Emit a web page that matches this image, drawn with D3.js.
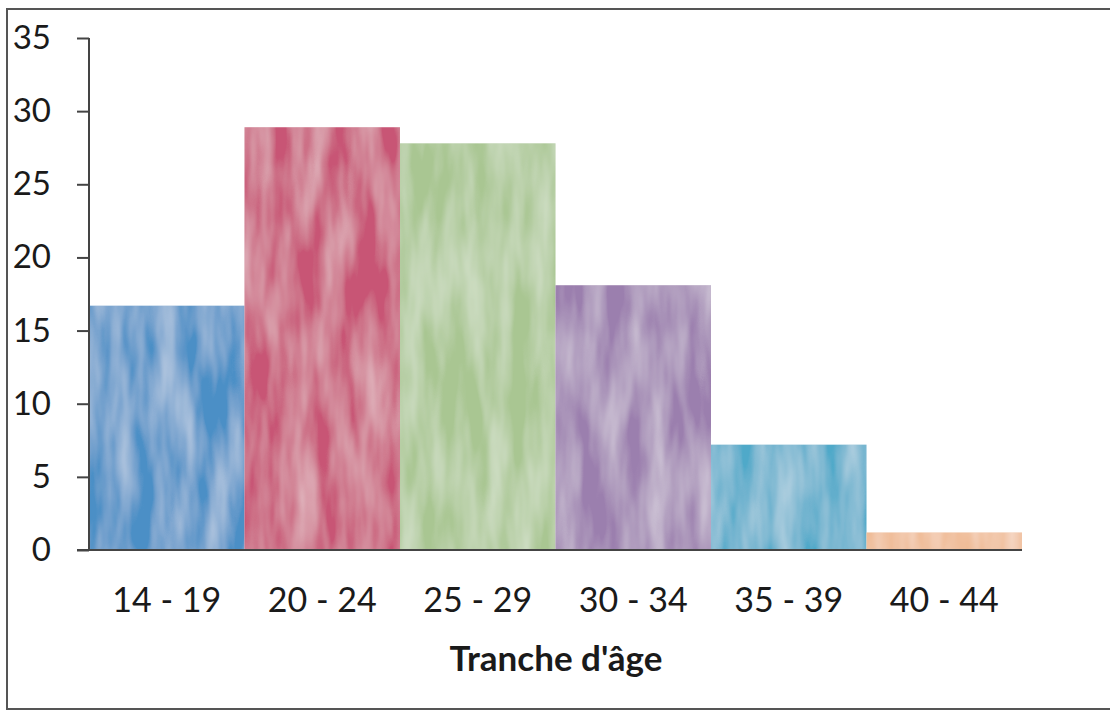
<!DOCTYPE html>
<html>
<head>
<meta charset="utf-8">
<script src="https://cdn.jsdelivr.net/npm/d3@7"></script>
<style>
  body { margin: 0; background: #fff; }
  text { font-family: Lato, "Open Sans", sans-serif; fill: #1a1a1a; }
</style>
</head>
<body>
<svg width="1110" height="712"></svg>
<script>
var categories = ["14 - 19", "20 - 24", "25 - 29", "30 - 34", "35 - 39", "40 - 44"];
var values = [16.7, 28.9, 27.8, 18.1, 7.2, 1.2];
var colors = ["#4b8fc6", "#c85474", "#a9c692", "#9b7fae", "#4fa9c9", "#efb992"];
var yTicks = [0, 5, 10, 15, 20, 25, 30, 35];
var xTitle = "Tranche d'âge";

var svg = d3.select("svg");

// soft watercolour-like texture for the bars
var filter = svg.append("defs").append("filter")
  .attr("id", "wash")
  .attr("x", 0).attr("y", 0).attr("width", 1).attr("height", 1);
filter.append("feTurbulence")
  .attr("type", "fractalNoise")
  .attr("baseFrequency", "0.045 0.009")
  .attr("numOctaves", 3)
  .attr("seed", 7)
  .attr("result", "noise");
filter.append("feColorMatrix")
  .attr("in", "noise")
  .attr("type", "matrix")
  .attr("values", "0 0 0 0 1  0 0 0 0 1  0 0 0 0 1  0.7 0 0 0 -0.22")
  .attr("result", "light");
filter.append("feComposite")
  .attr("in", "light").attr("in2", "SourceGraphic")
  .attr("operator", "in").attr("result", "lightIn");
filter.append("feMerge").selectAll("feMergeNode")
  .data(["SourceGraphic", "lightIn"])
  .join("feMergeNode").attr("in", function(d){ return d; });

// frame around the chart
svg.append("rect")
  .attr("x", 7).attr("y", 9)
  .attr("width", 1115).attr("height", 700)
  .attr("fill", "none")
  .attr("stroke", "#555")
  .attr("stroke-width", 2);

var x = d3.scaleBand().domain(categories).range([89, 1022]).padding(0);
var y = d3.scaleLinear().domain([0, 35]).range([550, 38]);

// bars
svg.selectAll("rect.bar")
  .data(values)
  .join("rect")
  .attr("class", "bar")
  .attr("x", function(d, i){ return x(categories[i]); })
  .attr("y", function(d){ return y(d); })
  .attr("width", x.bandwidth())
  .attr("height", function(d){ return y(0) - y(d); })
  .attr("fill", function(d, i){ return colors[i]; })
  .attr("filter", "url(#wash)");

// y axis
var yAxis = svg.append("g")
  .attr("transform", "translate(89,0)")
  .call(d3.axisLeft(y).tickValues(yTicks).tickSize(12).tickPadding(26));
yAxis.selectAll("line, path").attr("stroke", "#444").attr("stroke-width", 2);
yAxis.select(".domain").attr("d", "M0," + y(35) + "V" + y(0));
yAxis.selectAll("text")
  .style("font-size", "33px")
  .style("font-family", "Lato, 'Open Sans', sans-serif")
  .attr("fill", "#1a1a1a");

// x axis
var xAxis = svg.append("g")
  .attr("transform", "translate(0," + y(0) + ")")
  .call(d3.axisBottom(x).tickSize(0).tickPadding(38));
xAxis.select(".domain").attr("stroke", "#444").attr("stroke-width", 2)
  .attr("d", "M77,0H1022");
xAxis.selectAll("text")
  .style("font-size", "34px")
  .style("font-family", "Lato, 'Open Sans', sans-serif")
  .attr("fill", "#1a1a1a");

// axis title
svg.append("text")
  .attr("x", 556)
  .attr("y", 671)
  .attr("text-anchor", "middle")
  .style("font-size", "35px")
  .style("font-weight", "bold")
  .text(xTitle);
</script>
</body>
</html>
